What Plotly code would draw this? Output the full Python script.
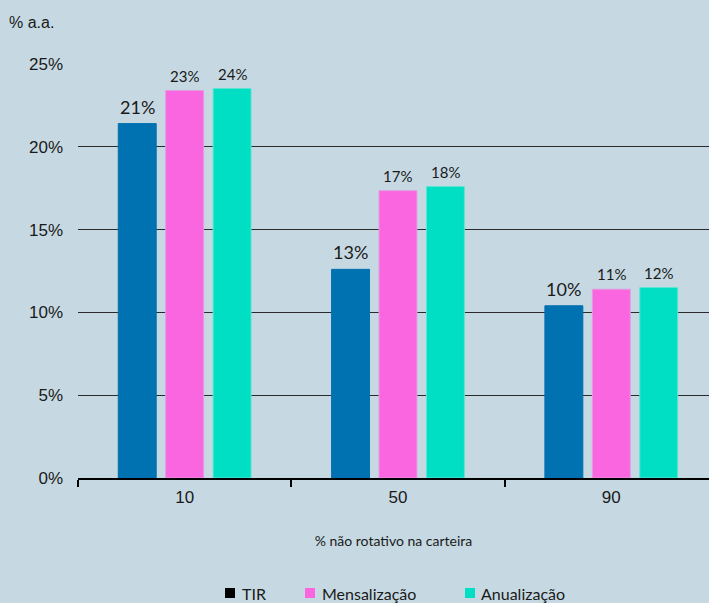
import plotly.graph_objects as go

categories = ["10", "50", "90"]
series_names = ["TIR", "Mensalização", "Anualização"]
tir = [21.4, 12.6, 10.4]
mensal = [23.4, 17.35, 11.4]
anual = [23.52, 17.6, 11.5]
series_values = [tir, mensal, anual]
bar_colors = ["#0071b1", "#fa66e0", "#00dfc4"]
legend_colors = ["#000000", "#fa66e0", "#00dfc4"]
line_colors = ["#0071b1", "#e39be0", "#5fe5d2"]
label_sizes = [18, 15, 15]
y_ticks = [0, 5, 10, 15, 20, 25]
y_tick_labels = [f"{v}%" for v in y_ticks]

BG = "#c6d9e2"
L, R, T, B = 78, 0, 64, 125
W, H = 709, 603
plot_w = W - L - R
plot_h = H - T - B
pitch = 47.5  # px between grouped bars

fig = go.Figure()
for i, (name, vals, col, lc, fs) in enumerate(zip(series_names, series_values, bar_colors, line_colors, label_sizes)):
    fig.add_trace(go.Bar(
        x=categories, y=vals, name=name,
        marker=dict(color=col, line=dict(color=lc, width=1)),
        showlegend=False,
    ))
    for j, v in enumerate(vals):
        fig.add_annotation(x=j, y=v, xref="x", yref="y", text=f"{round(v)}%",
                           showarrow=False, xanchor="center", yanchor="bottom",
                           xshift=(i - 1) * pitch, yshift=4,
                           font=dict(family="Lato", size=fs, color="#1a1a1a"))

# legend built from shapes + annotations
legend_px = [(225, 240), (305, 320), (465, 479)]
for (sq_x, tx_x), name, col in zip(legend_px, series_names, legend_colors):
    x0 = (sq_x - L) / plot_w
    x1 = (sq_x + 10 - L) / plot_w
    fig.add_shape(type="rect", xref="paper", yref="paper",
                  x0=x0, x1=x1, y0=(T + plot_h - 588) / plot_h, y1=(T + plot_h - 598) / plot_h,
                  fillcolor=col, line=dict(width=0))
    fig.add_annotation(xref="paper", yref="paper", x=(tx_x - L) / plot_w,
                       y=(T + plot_h - 593) / plot_h, text=name, showarrow=False,
                       xanchor="left", yanchor="middle",
                       font=dict(family="Lato", size=16, color="#1a1a1a"))

fig.add_annotation(xref="paper", yref="paper", x=(7 - L) / plot_w,
                   y=(T + plot_h - 22) / plot_h, text="% a.a.", showarrow=False,
                   xanchor="left", yanchor="middle",
                   font=dict(family="Liberation Sans", size=16, color="#1a1a1a"))

fig.update_layout(
    width=W, height=H,
    margin=dict(l=L, r=R, t=T, b=B),
    paper_bgcolor=BG, plot_bgcolor=BG,
    barmode="group", bargap=0.333, bargroupgap=0.2,
    xaxis=dict(
        type="category", range=[-0.5, 2.458],
        tickson="boundaries", ticks="outside", ticklen=7, tickwidth=2, tickcolor="#000",
        showline=True, linecolor="#000", linewidth=2,
        ticklabelstandoff=3,
        tickfont=dict(family="Liberation Sans", size=17, color="#1a1a1a"),
        title=dict(text="% não rotativo na carteira", standoff=30,
                   font=dict(family="Lato", size=14, color="#1a1a1a")),
        showgrid=False,
    ),
    yaxis=dict(
        range=[0, 25], tickvals=y_ticks, ticktext=y_tick_labels,
        showgrid=True, gridcolor="#2a2a2a", gridwidth=1,
        zeroline=False, showline=False,
        ticklabelstandoff=14,
        tickfont=dict(family="Liberation Sans", size=17, color="#1a1a1a"),
    ),
)

fig.write_html("out.html", config={"displayModeBar": False},
               post_script="document.body.style.margin='0';document.body.style.overflow='hidden';")
